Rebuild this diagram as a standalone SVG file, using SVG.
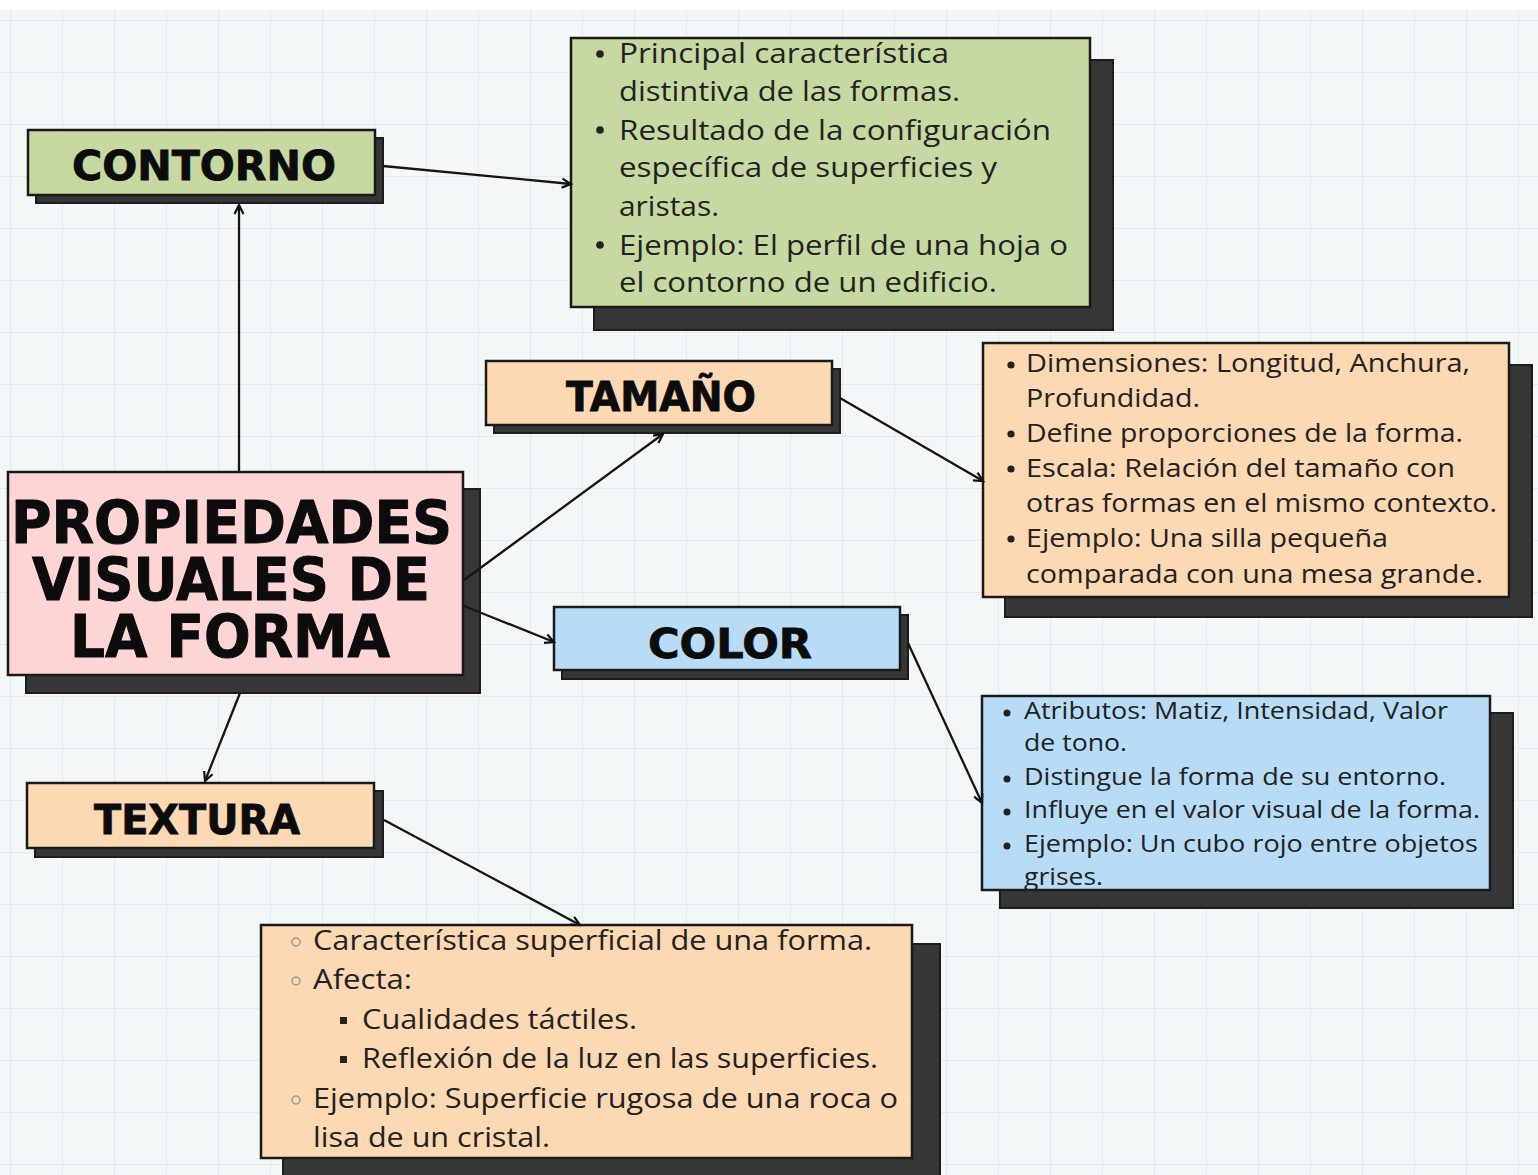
<svg xmlns="http://www.w3.org/2000/svg" width="1538" height="1175" viewBox="0 0 1538 1175">
<defs>
<pattern id="grid" width="52" height="52" patternUnits="userSpaceOnUse" x="10" y="20">
<path d="M52,0 L0,0 L0,52" fill="none" stroke="#e0e8eb" stroke-width="1.5"/>
</pattern>
<marker id="arr" markerUnits="userSpaceOnUse" markerWidth="14" markerHeight="14" refX="11" refY="6" orient="auto">
<path d="M2,1.5 L11,6 L2,10.5" fill="none" stroke="#111" stroke-width="2.2" stroke-linejoin="miter"/>
</marker>
<style>
.bg{fill:#f4f7f7}
.shadow{fill:#363636;stroke:#1d1d1d;stroke-width:2}
.box{stroke:#1a1a1a;stroke-width:2.5}
.green{fill:#c7d9a2}
.peach{fill:#fcd8b3}
.blue{fill:#b9dcf6}
.pink{fill:#fdd5d4}
.title{font-family:"DejaVu Sans","Liberation Sans",sans-serif;font-weight:bold;fill:#0c0c0c;stroke:#0c0c0c;stroke-width:0.8;text-anchor:middle}
.big{font-family:"DejaVu Sans","Liberation Sans",sans-serif;font-weight:bold;fill:#0c0c0c;stroke:#0c0c0c;stroke-width:1;text-anchor:start}
.body{font-family:"Open Sans","Noto Sans","Liberation Sans",sans-serif;fill:#222}
.conn{fill:none;stroke:#151515;stroke-width:2.3;marker-end:url(#arr)}
.dot{fill:#222}
.ring{fill:none;stroke:#999;stroke-width:1.5}
</style>
</defs>
<rect class="bg" x="0" y="0" width="1538" height="1175"/>
<rect x="0" y="0" width="1538" height="1175" fill="url(#grid)"/>
<rect x="0" y="0" width="1538" height="10" fill="#ffffff"/>

<g id="central">
<rect class="shadow" x="26" y="489" width="454" height="204"/>
<rect class="box pink" x="8" y="472" width="455" height="203"/>
<text class="big" font-size="58">
<tspan x="11" y="543" textLength="441" lengthAdjust="spacingAndGlyphs">PROPIEDADES</tspan>
<tspan x="32" y="600" textLength="398" lengthAdjust="spacingAndGlyphs">VISUALES DE</tspan>
<tspan x="70" y="657" textLength="320" lengthAdjust="spacingAndGlyphs">LA FORMA</tspan>
</text>
</g>

<g id="contorno">
<rect class="shadow" x="36" y="138" width="347" height="65"/>
<rect class="box green" x="28" y="130" width="347" height="65"/>
<text class="title" x="204" y="180" font-size="40" textLength="264" lengthAdjust="spacingAndGlyphs">CONTORNO</text>
</g>

<g id="contorno-desc">
<rect class="shadow" x="594" y="60" width="519" height="270"/>
<rect class="box green" x="571" y="38" width="519" height="269"/>
<circle class="dot" cx="600" cy="54" r="3.8"/>
<circle class="dot" cx="600" cy="130" r="3.8"/>
<circle class="dot" cx="600" cy="245" r="3.8"/>
<text class="body" font-size="27">
<tspan x="619" y="63" textLength="330" lengthAdjust="spacingAndGlyphs">Principal característica</tspan>
<tspan x="619" y="101" textLength="341" lengthAdjust="spacingAndGlyphs">distintiva de las formas.</tspan>
<tspan x="619" y="140" textLength="432" lengthAdjust="spacingAndGlyphs">Resultado de la configuración</tspan>
<tspan x="619" y="177" textLength="378" lengthAdjust="spacingAndGlyphs">específica de superficies y</tspan>
<tspan x="619" y="216" textLength="100" lengthAdjust="spacingAndGlyphs">aristas.</tspan>
<tspan x="619" y="255" textLength="449" lengthAdjust="spacingAndGlyphs">Ejemplo: El perfil de una hoja o</tspan>
<tspan x="619" y="292" textLength="378" lengthAdjust="spacingAndGlyphs">el contorno de un edificio.</tspan>
</text>
</g>

<g id="tamano">
<rect class="shadow" x="494" y="369" width="346" height="64"/>
<rect class="box peach" x="486" y="361" width="346" height="64"/>
<text class="title" x="661" y="411" font-size="40" textLength="190" lengthAdjust="spacingAndGlyphs">TAMAÑO</text>
</g>

<g id="tamano-desc">
<rect class="shadow" x="1005" y="365" width="527" height="252"/>
<rect class="box peach" x="983" y="343" width="526" height="254"/>
<circle class="dot" cx="1011" cy="365" r="3.6"/>
<circle class="dot" cx="1011" cy="434" r="3.6"/>
<circle class="dot" cx="1011" cy="469" r="3.6"/>
<circle class="dot" cx="1011" cy="539" r="3.6"/>
<text class="body" font-size="25">
<tspan x="1026" y="372" textLength="444" lengthAdjust="spacingAndGlyphs">Dimensiones: Longitud, Anchura,</tspan>
<tspan x="1026" y="407" textLength="174" lengthAdjust="spacingAndGlyphs">Profundidad.</tspan>
<tspan x="1026" y="442" textLength="437" lengthAdjust="spacingAndGlyphs">Define proporciones de la forma.</tspan>
<tspan x="1026" y="477" textLength="429" lengthAdjust="spacingAndGlyphs">Escala: Relación del tamaño con</tspan>
<tspan x="1026" y="512" textLength="471" lengthAdjust="spacingAndGlyphs">otras formas en el mismo contexto.</tspan>
<tspan x="1026" y="547" textLength="362" lengthAdjust="spacingAndGlyphs">Ejemplo: Una silla pequeña</tspan>
<tspan x="1026" y="583" textLength="457" lengthAdjust="spacingAndGlyphs">comparada con una mesa grande.</tspan>
</text>
</g>

<g id="color">
<rect class="shadow" x="562" y="615" width="346" height="64"/>
<rect class="box blue" x="554" y="607" width="346" height="63"/>
<text class="title" x="730" y="658" font-size="40" textLength="164" lengthAdjust="spacingAndGlyphs">COLOR</text>
</g>

<g id="color-desc">
<rect class="shadow" x="1000" y="713" width="513" height="195"/>
<rect class="box blue" x="982" y="696" width="508" height="194"/>
<circle class="dot" cx="1007" cy="713" r="3.5"/>
<circle class="dot" cx="1007" cy="779" r="3.5"/>
<circle class="dot" cx="1007" cy="812" r="3.5"/>
<circle class="dot" cx="1007" cy="846" r="3.5"/>
<text class="body" font-size="24">
<tspan x="1024" y="719" textLength="424" lengthAdjust="spacingAndGlyphs">Atributos: Matiz, Intensidad, Valor</tspan>
<tspan x="1024" y="751" textLength="103" lengthAdjust="spacingAndGlyphs">de tono.</tspan>
<tspan x="1024" y="785" textLength="422" lengthAdjust="spacingAndGlyphs">Distingue la forma de su entorno.</tspan>
<tspan x="1024" y="818" textLength="456" lengthAdjust="spacingAndGlyphs">Influye en el valor visual de la forma.</tspan>
<tspan x="1024" y="852" textLength="454" lengthAdjust="spacingAndGlyphs">Ejemplo: Un cubo rojo entre objetos</tspan>
<tspan x="1024" y="885" textLength="79" lengthAdjust="spacingAndGlyphs">grises.</tspan>
</text>
</g>

<g id="textura">
<rect class="shadow" x="35" y="791" width="348" height="66"/>
<rect class="box peach" x="27" y="783" width="347" height="65"/>
<text class="title" x="197" y="834" font-size="40" textLength="206" lengthAdjust="spacingAndGlyphs">TEXTURA</text>
</g>

<g id="textura-desc">
<rect class="shadow" x="283" y="944" width="657" height="240"/>
<rect class="box peach" x="261" y="925" width="651" height="233"/>
<circle class="ring" cx="296" cy="942" r="4"/>
<circle class="ring" cx="296" cy="981" r="4"/>
<rect class="dot" x="340" y="1017" width="7" height="7"/>
<rect class="dot" x="340" y="1056" width="7" height="7"/>
<circle class="ring" cx="296" cy="1100" r="4"/>
<text class="body" font-size="27">
<tspan x="313" y="950" textLength="559" lengthAdjust="spacingAndGlyphs">Característica superficial de una forma.</tspan>
<tspan x="313" y="989" textLength="99" lengthAdjust="spacingAndGlyphs">Afecta:</tspan>
<tspan x="362" y="1029" textLength="275" lengthAdjust="spacingAndGlyphs">Cualidades táctiles.</tspan>
<tspan x="362" y="1068" textLength="516" lengthAdjust="spacingAndGlyphs">Reflexión de la luz en las superficies.</tspan>
<tspan x="313" y="1108" textLength="585" lengthAdjust="spacingAndGlyphs">Ejemplo: Superficie rugosa de una roca o</tspan>
<tspan x="313" y="1147" textLength="237" lengthAdjust="spacingAndGlyphs">lisa de un cristal.</tspan>
</text>
</g>

<g id="connectors">
<path class="conn" d="M239,472 L239,205"/>
<path class="conn" d="M383,166 L571,184"/>
<path class="conn" d="M464,580 L663,434"/>
<path class="conn" d="M840,398 L983,481"/>
<path class="conn" d="M464,606 L554,642"/>
<path class="conn" d="M908,643 L982,803"/>
<path class="conn" d="M240,693 L205,781"/>
<path class="conn" d="M384,820 L580,925"/>
</g>
</svg>
